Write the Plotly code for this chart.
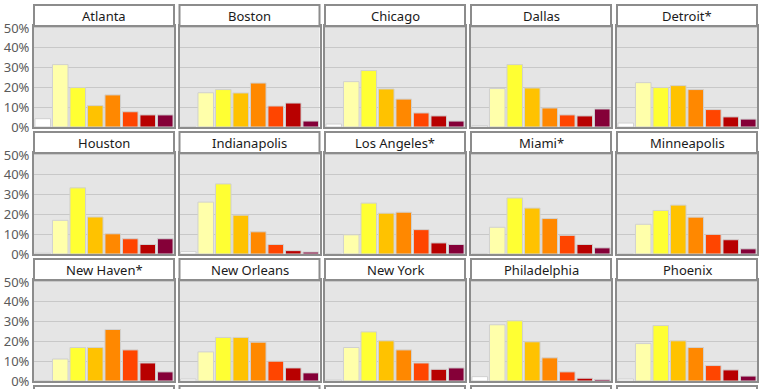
import plotly.graph_objects as go

# ---------------- data ----------------
categories = ["Bin 1", "Bin 2", "Bin 3", "Bin 4", "Bin 5", "Bin 6", "Bin 7", "Bin 8"]
bar_colors = ["#FFFFFF", "#FFFFAA", "#FFFF33", "#FFC200", "#FF8800", "#FF4500", "#B80000", "#850038"]

cities = ["Atlanta", "Boston", "Chicago", "Dallas", "Detroit*",
          "Houston", "Indianapolis", "Los Angeles*", "Miami*", "Minneapolis",
          "New Haven*", "New Orleans", "New York", "Philadelphia", "Phoenix"]

atlanta      = [0.042, 0.315, 0.199, 0.108, 0.162, 0.077, 0.061, 0.061]
boston       = [0.000, 0.173, 0.189, 0.172, 0.222, 0.106, 0.121, 0.030]
chicago      = [0.015, 0.229, 0.285, 0.192, 0.141, 0.071, 0.056, 0.030]
dallas       = [0.007, 0.194, 0.315, 0.197, 0.096, 0.061, 0.056, 0.091]
detroit      = [0.020, 0.224, 0.199, 0.209, 0.189, 0.088, 0.051, 0.040]
houston      = [0.004, 0.170, 0.334, 0.187, 0.102, 0.077, 0.048, 0.077]
indianapolis = [0.012, 0.262, 0.354, 0.196, 0.112, 0.048, 0.017, 0.010]
los_angeles  = [0.000, 0.097, 0.257, 0.206, 0.211, 0.123, 0.056, 0.048]
miami        = [0.000, 0.135, 0.283, 0.232, 0.179, 0.094, 0.048, 0.031]
minneapolis  = [0.000, 0.150, 0.220, 0.247, 0.186, 0.099, 0.072, 0.026]
new_haven    = [0.000, 0.111, 0.169, 0.169, 0.260, 0.157, 0.091, 0.046]
new_orleans  = [0.010, 0.147, 0.220, 0.220, 0.196, 0.100, 0.066, 0.041]
new_york     = [0.005, 0.169, 0.248, 0.203, 0.157, 0.091, 0.059, 0.066]
philadelphia = [0.022, 0.284, 0.304, 0.198, 0.117, 0.046, 0.014, 0.008]
phoenix      = [0.010, 0.189, 0.280, 0.203, 0.169, 0.078, 0.056, 0.025]

city_values = [atlanta, boston, chicago, dallas, detroit,
               houston, indianapolis, los_angeles, miami, minneapolis,
               new_haven, new_orleans, new_york, philadelphia, phoenix]

y_ticks = [0, 0.1, 0.2, 0.3, 0.4, 0.5]

# ---------------- layout geometry (pixels) ----------------
W, H = 761, 389
col_left = [34, 179.5, 325, 471, 617]
panel_w = 140
row_title_top = [5, 132, 259, 386]
title_h = 21
plot_h = 101
border = "#8C8C8C"

fig = go.Figure()
layout = {}
shapes = []
annotations = []

for i, (name, vals) in enumerate(zip(cities, city_values)):
    r, c = divmod(i, 5)
    k = i + 1
    x0 = col_left[c]
    x1 = x0 + panel_w
    yt = row_title_top[r]
    yp0 = yt + title_h
    yp1 = yp0 + plot_h
    fig.add_trace(go.Bar(
        x=categories, y=vals,
        marker=dict(color=bar_colors, line=dict(color="#D0D0D0", width=1)),
        xaxis=f"x{k}", yaxis=f"y{k}", showlegend=False,
        hovertemplate="%{x}: %{y:.1%}<extra>" + name + "</extra>",
    ))
    layout[f"xaxis{k}"] = dict(
        domain=[x0 / W, x1 / W], anchor=f"y{k}", type="category",
        range=[-0.5, 7.5], showticklabels=False, showgrid=False, zeroline=False,
        showline=True, mirror=True, linecolor=border, linewidth=2, ticks="",
        automargin=False,
    )
    layout[f"yaxis{k}"] = dict(
        domain=[(H - yp1) / H, (H - yp0) / H], anchor=f"x{k}",
        range=[0, 0.51], tickvals=y_ticks, tickformat=".0%",
        showticklabels=(c == 0), showgrid=True, gridcolor="#C8C8C8", gridwidth=1,
        zeroline=False, showline=True, mirror=True, linecolor=border, linewidth=2,
        ticks="", tickfont=dict(family="Noto Sans", size=13, color="#5A5A5A"),
        automargin=False, ticklabeloverflow="allow",
    )
    shapes.append(dict(
        type="rect", xref="paper", yref="paper",
        x0=x0 / W, x1=x1 / W, y0=(H - yp0) / H, y1=(H - yt) / H,
        fillcolor="white", line=dict(color=border, width=2), layer="above",
    ))
    annotations.append(dict(
        text=name, xref="paper", yref="paper",
        x=(x0 + x1) / 2 / W, y=(H - (yt + yp0) / 2) / H,
        xanchor="center", yanchor="middle", showarrow=False,
        font=dict(family="Noto Sans", size=13, color="#1A1A1A"),
    ))

# partially visible fourth row (cut off by the frame)
for c in range(5):
    x0 = col_left[c]
    x1 = x0 + panel_w
    yt = row_title_top[3]
    shapes.append(dict(
        type="rect", xref="paper", yref="paper",
        x0=x0 / W, x1=x1 / W, y0=(H - (yt + 40)) / H, y1=(H - yt) / H,
        fillcolor="white", line=dict(color=border, width=2), layer="above",
    ))

fig.update_layout(
    width=W, height=H,
    margin=dict(l=0, r=0, t=0, b=0, autoexpand=False),
    paper_bgcolor="white", plot_bgcolor="#E5E5E5",
    bargap=0.11, shapes=shapes, annotations=annotations,
    font=dict(family="Noto Sans"),
    **layout,
)

fig.write_html(
    "out.html",
    config={"displayModeBar": False},
    post_script="document.body.style.margin='0';document.body.style.overflow='hidden';",
)
